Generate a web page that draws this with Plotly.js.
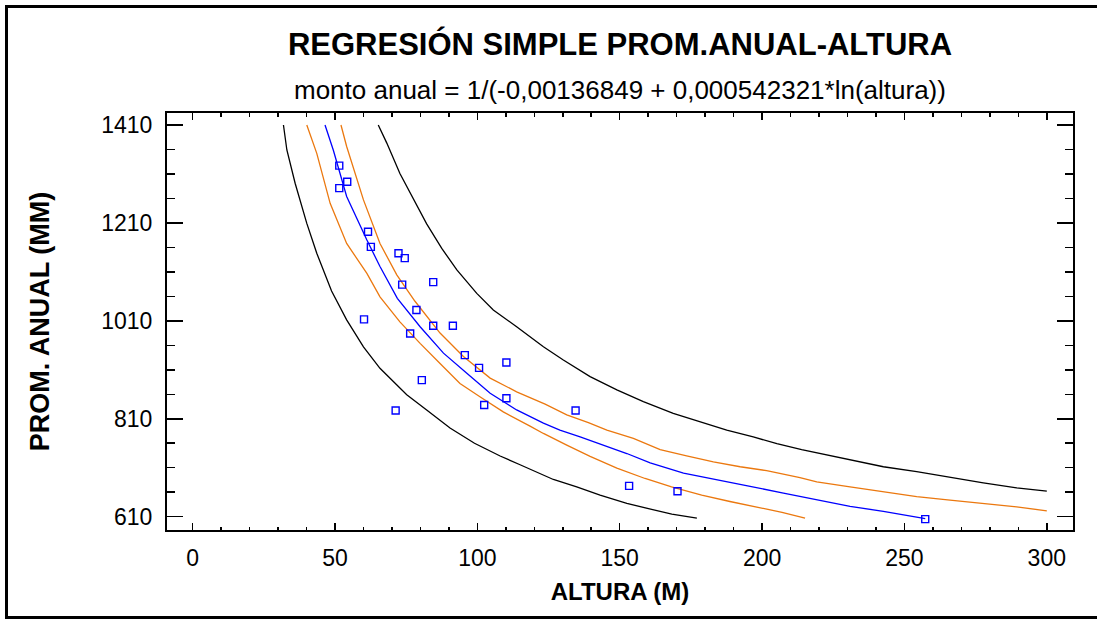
<!DOCTYPE html>
<html><head><meta charset="utf-8">
<script src="https://cdn.plot.ly/plotly-3.0.1.min.js"></script>
<style>
html,body{margin:0;padding:0;background:#fff;overflow:hidden;width:1097px;height:619px}
#chart{position:absolute;left:0;top:0;width:1097px;height:619px}
.fr{position:absolute;background:#000;pointer-events:none}
</style></head><body>
<div id="chart"></div>
<div class="fr" style="left:5px;top:5px;width:1092px;height:3px"></div>
<div class="fr" style="left:5px;top:5px;width:3px;height:614px"></div>
<div class="fr" style="left:5px;top:616px;width:1092px;height:3px"></div>
<script>
// observed data (altura in m, prom. anual in mm)
const alturaObs = [51.5,54.3,51.5,61.6,62.6,72.3,74.5,73.6,84.5,60.2,78.6,84.5,91.4,76.4,95.6,100.6,110.2,80.5,110.2,102.4,71.3,134.5,153.3,170.3,257.3];
const promObs   = [1327,1294,1281,1192,1161,1148,1138,1084,1089,1013,1032,1000,1000,984,940,914,925,889,852,838,827,827,673,662,605];

// fitted curve
const fitX = [46.5,49.4,54.1,61.2,65.8,71.9,79.9,88.1,96.3,104.5,113.8,123.2,129.0,136.1,152.5,160.7,172.4,184.1,195.8,207.5,219.2,230.9,242.6,257.3];
const fitY = [1410,1359,1264,1175,1121,1056,998,944,903,862,828,801,787,773,739,720,699,686,672,658,645,631,621,606];

// confidence limits for the mean
const confLowX  = [40.1,43.6,48.3,54.1,61.2,65.8,72.8,79.9,86.9,93.9,100.9,109.1,118.5,123.2,131.4,139.6,149.0,158.9,168.2,178.8,188.7,198.0,207.0,215.1];
const confLowY  = [1410,1352,1250,1168,1107,1059,1008,964,923,882,855,824,795,780,756,733,709,688,671,654,641,630,619,607];
const confHighX = [52.1,54.1,60.0,65.8,71.7,78.1,86.9,95.1,104.5,113.8,123.8,131.4,139.0,145.5,154.8,164.2,173.5,182.9,192.3,201.6,213.3,219.2,230.9,242.6,254.3,266.0,277.7,289.4,300];
const confHighY = [1410,1366,1257,1168,1104,1050,985,937,893,865,840,818,802,787,770,747,734,722,712,704,690,681,671,661,651,644,637,630,622];

// prediction limits
const predLowX  = [31.9,33.1,36.0,40.1,43.6,48.8,54.1,60.0,65.8,75.2,82.2,90.4,99.0,108.0,115.0,123.2,126.7,134.9,143.1,152.5,160.7,168.3,177.1];
const predLowY  = [1410,1359,1291,1209,1148,1071,1012,957,913,859,828,791,760,734,716,695,686,671,654,637,625,615,607];
const predHighX = [65.2,68.2,72.8,82.2,87.5,92.8,99.8,105.6,113.8,123.2,130.2,139.6,149.0,158.3,168.8,178.2,187.6,196.9,205.2,213.9,222.7,230.9,242.6,254.3,266.0,277.7,289.4,300];
const predHighY = [1410,1373,1311,1208,1158,1114,1066,1032,998,957,930,896,869,845,821,804,787,773,759,747,736,727,712,702,690,679,669,662];

const xTickStep = 50, yTick0 = 610, yTickStep = 200;
const FONT = 'Liberation Sans, Arial, Helvetica, sans-serif';
const ORANGE = 'rgb(235,120,15)';

function line(x, y, color, name) {
  return {x: x, y: y, type: 'scatter', mode: 'lines', name: name,
          line: {color: color, width: 1.3}, hoverinfo: 'skip'};
}

const traces = [
  line(predLowX, predLowY, '#000000', 'Límite predicción inf.'),
  line(predHighX, predHighY, '#000000', 'Límite predicción sup.'),
  line(confLowX, confLowY, ORANGE, 'Límite confianza inf.'),
  line(confHighX, confHighY, ORANGE, 'Límite confianza sup.'),
  line(fitX, fitY, '#0000FF', 'Modelo ajustado'),
  {x: alturaObs, y: promObs, type: 'scatter', mode: 'markers', name: 'Observado',
   marker: {symbol: 'square-open', size: 7, color: '#0000FF', line: {width: 1.4, color: '#0000FF'}}}
];

const axisCommon = {
  showline: true, linewidth: 2, linecolor: '#000', mirror: 'allticks',
  showgrid: false, zeroline: false, ticks: 'inside', tickcolor: '#000', tickwidth: 1.5,
  tickfont: {family: FONT, size: 23, color: '#000'}
};

const layout = {
  width: 1097, height: 619,
  margin: {l: 167, r: 24, t: 113, b: 89, pad: 0},
  paper_bgcolor: 'rgba(0,0,0,0)', plot_bgcolor: '#fff',
  showlegend: false,
  font: {family: FONT, color: '#000'},
  title: {text: 'REGRESIÓN SIMPLE PROM.ANUAL-ALTURA', x: 0.5, xref: 'paper', y: 1 - 44/619, yref: 'container',
          xanchor: 'center', yanchor: 'middle', font: {family: FONT, size: 31, weight: 'bold', color: '#000'}},
  annotations: [{text: 'monto anual = 1/(-0,00136849 + 0,000542321*ln(altura))', xref: 'paper', yref: 'paper',
                 x: 0.5, y: (530 - 90) / 417, xanchor: 'center', yanchor: 'middle', showarrow: false,
                 font: {family: FONT, size: 26, color: '#000'}}],
  xaxis: Object.assign({}, axisCommon, {
    range: [-9, 309.2], tick0: 0, dtick: xTickStep, ticklen: 7, ticklabelstandoff: 6,
    minor: {dtick: 10, ticks: 'inside', ticklen: 3.5, tickwidth: 1.5, tickcolor: '#000', showgrid: false},
    title: {text: 'ALTURA (M)', font: {family: FONT, size: 24, weight: 'bold', color: '#000'}, standoff: 14}
  }),
  yaxis: Object.assign({}, axisCommon, {
    range: [582.8, 1434.5], tick0: yTick0, dtick: yTickStep, ticklen: 16, ticklabelstandoff: 8,
    minor: {dtick: 50, tick0: yTick0, ticks: 'inside', ticklen: 8, tickwidth: 1.5, tickcolor: '#000', showgrid: false},
    title: {text: 'PROM. ANUAL (MM)', font: {family: FONT, size: 27, weight: 'bold', color: '#000'}, standoff: 44}
  })
};

Plotly.newPlot('chart', traces, layout, {staticPlot: true, displayModeBar: false});
</script></body></html>
